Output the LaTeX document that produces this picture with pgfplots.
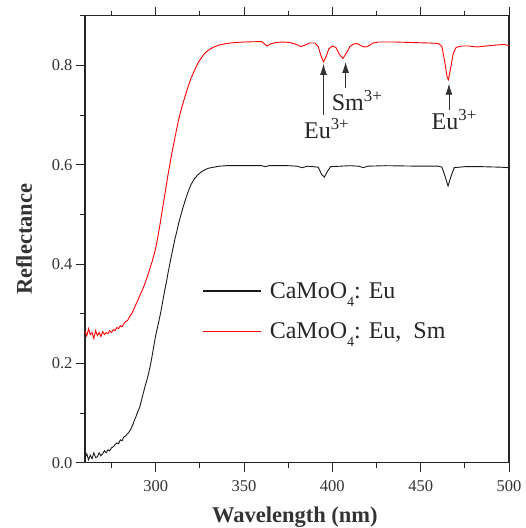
\documentclass[border=0pt]{standalone}
\usepackage{fontspec}
\setmainfont{Liberation Serif}
\usepackage{pgfplots}
\pgfplotsset{compat=1.18}
\usetikzlibrary{arrows.meta}

\pgfplotstableread{
x y
260 0.010
261 0.018
262 0.006
263 0.015
264 0.008
265 0.020
266 0.010
267 0.012
268 0.020
269 0.014
270 0.018
271 0.024
272 0.020
273 0.026
274 0.024
275 0.030
276 0.032
277 0.036
278 0.040
279 0.038
280 0.046
281 0.044
282 0.052
283 0.054
284 0.058
285 0.062
286 0.068
287 0.076
288 0.086
289 0.094
290 0.104
291 0.112
292 0.126
293 0.140
294 0.154
295 0.166
296 0.180
297 0.196
298 0.215
299 0.236
300 0.256
301 0.272
302 0.288
303 0.305
304 0.325
305 0.345
306 0.362
307 0.382
308 0.400
309 0.418
310 0.435
311 0.452
312 0.466
313 0.482
314 0.495
315 0.508
316 0.520
317 0.531
318 0.542
319 0.551
320 0.560
322 0.572
324 0.580
326 0.586
328 0.590
330 0.593
333 0.595
336 0.597
340 0.598
350 0.598
360 0.598
362 0.596
364 0.598
375 0.598
380 0.597
383 0.594
386 0.597
392 0.595
394 0.580
395.5 0.575
397 0.585
399 0.596
410 0.598
415 0.597
417.5 0.594
420 0.597
430 0.598
450 0.597
460 0.597
462 0.595
463.5 0.580
465.5 0.557
467 0.575
469 0.594
475 0.596
485 0.596
495 0.595
500 0.594
}\eu

\pgfplotstableread{
x y
260 0.265
261 0.255
262 0.270
263 0.258
264 0.262
265 0.250
266 0.266
267 0.256
268 0.262
269 0.254
270 0.264
271 0.258
272 0.262
273 0.260
274 0.266
275 0.262
276 0.268
277 0.266
278 0.272
279 0.270
280 0.276
281 0.274
282 0.280
283 0.284
284 0.286
285 0.292
286 0.298
287 0.304
288 0.312
289 0.320
290 0.328
291 0.336
292 0.344
293 0.352
294 0.362
295 0.372
296 0.382
297 0.394
298 0.405
299 0.418
300 0.432
301 0.450
302 0.470
303 0.492
304 0.514
305 0.536
306 0.558
307 0.580
308 0.600
309 0.620
310 0.638
311 0.656
312 0.674
313 0.690
314 0.705
315 0.718
316 0.730
317 0.742
318 0.753
319 0.764
320 0.774
322 0.790
324 0.805
326 0.816
328 0.825
330 0.831
333 0.837
336 0.841
340 0.844
345 0.846
350 0.847
360 0.848
362 0.842
363 0.839
365 0.843
368 0.846
372 0.847
376 0.846
379 0.843
382 0.838
384 0.840
387 0.845
390 0.845
392 0.838
393.5 0.820
395 0.807
396.5 0.818
398 0.833
400 0.839
402 0.836
404 0.822
406 0.814
408 0.825
410 0.838
412 0.843
414 0.844
416 0.840
418 0.837
420 0.838
423 0.845
426 0.847
435 0.847
445 0.846
455 0.845
460 0.844
462 0.838
463.5 0.810
465 0.776
465.7 0.771
467 0.795
468.5 0.825
470 0.836
473 0.839
477 0.839
482 0.837
487 0.839
493 0.841
497 0.842
500 0.840
}\eusm

\newcommand{\lgf}{\fontsize{24}{28}\selectfont}
\newcommand{\sub}[1]{\raisebox{-8pt}{\fontsize{14}{16}\selectfont #1}}

\begin{document}
\begin{tikzpicture}
\begin{axis}[
  scale only axis, width=424pt, height=447pt,
  xmin=260, xmax=500, ymin=0, ymax=0.9,
  xtick={300,350,400,450,500}, minor xtick={275,325,375,425,475},
  ytick={0,0.2,0.4,0.6,0.8}, minor ytick={0.1,0.3,0.5,0.7,0.9},
  ytick pos=left, xtick pos=both,
  tick align=outside,
  major tick length=9pt, minor tick length=5pt,
  every tick/.style={black!85, line width=0.9pt},
  axis line style={black!85, line width=1.1pt},
  yticklabel style={/pgf/number format/.cd, fixed, fixed zerofill, precision=1},
  /pgf/number format/assume math mode=true,
  ticklabel style={font=\fontsize{16.5}{19}\selectfont, text=black!80},
  xticklabel style={yshift=-5pt},
  xlabel={\textbf{Wavelength (nm)}}, ylabel={\textbf{Reflectance}},
  label style={font=\fontsize{22.5}{26}\selectfont, text=black!80, inner sep=0pt},
  xlabel style={at={(axis description cs:0.495,-0.121)}, anchor=center},
  ylabel style={at={(axis description cs:-0.144,0.5)}, anchor=center},
  legend style={at={(rel axis cs:0.27,0.413)}, anchor=north west, draw=none, fill=none,
    text=black!85, row sep=19pt, nodes={inner sep=2pt}},
  legend cell align=left,
  legend image code/.code={\draw[#1, line width=1.1pt] (0pt,0pt) -- (58pt,0pt);},
]
\addplot[black!90, line width=0.9pt] table {\eu};
\addlegendentry{\hspace{6pt}\lgf CaMoO\sub{4}: Eu}
\addplot[red, line width=0.9pt] table {\eusm};
\addlegendentry{\hspace{6pt}\lgf CaMoO\sub{4}: Eu,\ \ Sm}

\draw[-{Latex[length=11pt,width=7pt]}, line width=0.8pt, black!80] (axis cs:395,0.701) -- (axis cs:395,0.803);
\draw[-{Latex[length=11pt,width=7pt]}, line width=0.8pt, black!80] (axis cs:407.5,0.754) -- (axis cs:407.5,0.807);
\draw[-{Latex[length=11pt,width=7pt]}, line width=0.8pt, black!80] (axis cs:466,0.711) -- (axis cs:466,0.763);
\node[font=\lgf, text=black!85, inner sep=0pt] at (axis cs:396.8,0.673) {Eu\textsuperscript{3+}};
\node[font=\lgf, text=black!85, inner sep=0pt] at (axis cs:414,0.730) {Sm\textsuperscript{3+}};
\node[font=\lgf, text=black!85, inner sep=0pt] at (axis cs:469,0.690) {Eu\textsuperscript{3+}};
\end{axis}
\path (current axis.south west) ++(-85pt,-65.3pt) (current axis.north east) ++(16pt,15.7pt);
\end{tikzpicture}
\end{document}
